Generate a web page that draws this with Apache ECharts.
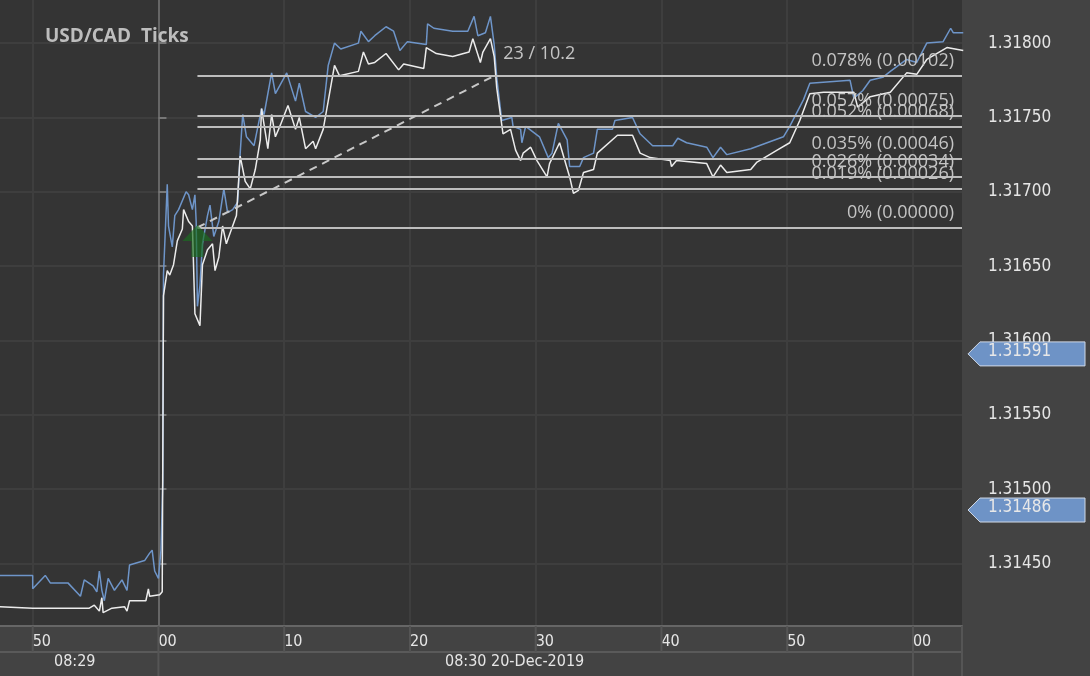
<!DOCTYPE html>
<html><head><meta charset="utf-8">
<script src="https://cdn.jsdelivr.net/npm/echarts@6/dist/echarts.min.js"></script>
<style>html,body{margin:0;padding:0;background:#434343}#c{width:1090px;height:676px}</style>
</head><body><div id="c"></div>
<script>
// time in seconds relative to 08:30:00, price
const askT=[-12.6,-10.0,-10.0,-9.0,-8.6,-7.2,-6.2,-5.9,-5.2,-4.9,-4.7,-4.5,-4.3,-4.0,-3.5,-2.9,-2.5,-2.3,-1.1,-0.7,-0.5,-0.3,0.0,0.2,0.35,0.4,0.7,0.8,1.1,1.3,1.6,2.2,2.4,2.7,2.9,3.0,3.1,3.3,3.5,3.9,4.1,4.4,4.8,5.2,5.5,5.9,6.3,6.5,6.7,7.0,7.6,8.2,8.4,9.0,9.3,10.2,10.9,11.2,11.7,12.5,13.1,13.5,14.0,14.5,15.9,16.1,16.7,17.2,18.1,18.7,19.2,19.8,21.3,21.4,21.9,23.4,24.6,25.1,25.4,26.0,26.4,26.7,26.9,27.3,28.1,28.2,28.8,28.9,29.2,30.3,31.0,31.3,31.8,32.5,32.7,33.5,33.8,34.6,34.9,36.1,36.3,37.7,38.3,39.3,40.9,41.3,42.0,43.6,44.1,44.7,45.2,47.1,48.4,49.7,50.2,51.3,51.8,55.0,55.3,56.0,56.6,57.6,58.2,59.5,60.3,61.1,62.4,63.0,63.2,64.0];
const askP=[1.31442,1.31442,1.31433,1.31442,1.31437,1.31437,1.31428,1.31439,1.31435,1.31431,1.31445,1.31432,1.31425,1.31440,1.31432,1.31439,1.31432,1.31449,1.31452,1.31457,1.31459,1.31445,1.31440,1.31459,1.31506,1.31644,1.31705,1.31677,1.31663,1.31684,1.31688,1.31700,1.31698,1.31688,1.31698,1.31680,1.31623,1.31637,1.31665,1.31684,1.31691,1.31670,1.31680,1.31702,1.31686,1.31688,1.31693,1.31726,1.31752,1.31737,1.31731,1.31756,1.31752,1.31780,1.31766,1.31780,1.31761,1.31773,1.31754,1.31750,1.31754,1.31785,1.31800,1.31796,1.31800,1.31808,1.31801,1.31805,1.31811,1.31808,1.31795,1.31801,1.31799,1.31813,1.31810,1.31808,1.31808,1.31818,1.31805,1.31807,1.31818,1.31799,1.31777,1.31748,1.31750,1.31744,1.31742,1.31733,1.31744,1.31737,1.31723,1.31726,1.31746,1.31735,1.31717,1.31717,1.31723,1.31726,1.31742,1.31742,1.31748,1.31750,1.31739,1.31731,1.31731,1.31736,1.31733,1.31730,1.31723,1.31730,1.31725,1.31729,1.31733,1.31737,1.31744,1.31762,1.31773,1.31775,1.31763,1.31768,1.31775,1.31777,1.31781,1.31789,1.31787,1.31800,1.31801,1.31810,1.31807,1.31807];
const bidT=[-12.6,-10.0,-5.5,-5.1,-4.7,-4.5,-4.4,-3.7,-2.7,-2.5,-2.3,-1.0,-0.8,-0.7,0.1,0.3,0.4,0.7,0.9,1.2,1.5,1.9,2.0,2.4,2.7,2.9,3.3,3.5,3.9,4.3,4.5,4.8,5.1,5.4,5.6,6.2,6.5,6.9,7.3,7.7,8.1,8.2,8.7,9.0,9.3,9.7,10.3,10.9,11.2,11.7,12.3,12.5,13.1,13.5,14.0,14.4,15.9,16.3,16.7,17.2,18.1,19.1,19.5,21.1,21.3,22.1,23.4,24.7,25.0,25.6,25.8,26.4,26.7,26.9,27.4,28.0,28.4,28.8,29.0,29.6,30.1,30.9,31.1,31.9,32.7,33.0,33.4,33.8,34.6,34.9,36.5,37.7,38.3,39.1,40.7,40.8,41.2,43.6,44.1,44.7,45.2,47.1,47.6,49.2,50.2,51.0,51.8,52.9,55.3,55.6,56.6,58.2,59.5,60.3,61.1,62.7,64.0];
const bidP=[1.31421,1.31420,1.31420,1.31422,1.31418,1.31427,1.31417,1.31420,1.31421,1.31418,1.31425,1.31425,1.31433,1.31428,1.31429,1.31431,1.31630,1.31647,1.31644,1.31651,1.31667,1.31675,1.31688,1.31680,1.31677,1.31618,1.31610,1.31651,1.31661,1.31665,1.31647,1.31656,1.31677,1.31665,1.31670,1.31684,1.31724,1.31707,1.31702,1.31715,1.31735,1.31756,1.31729,1.31752,1.31737,1.31745,1.31758,1.31742,1.31750,1.31729,1.31734,1.31729,1.31742,1.31761,1.31785,1.31778,1.31781,1.31794,1.31786,1.31787,1.31793,1.31782,1.31786,1.31783,1.31797,1.31793,1.31791,1.31794,1.31803,1.31787,1.31794,1.31803,1.31791,1.31770,1.31739,1.31742,1.31728,1.31721,1.31726,1.31730,1.31721,1.31710,1.31719,1.31733,1.31710,1.31699,1.31701,1.31713,1.31715,1.31726,1.31738,1.31738,1.31726,1.31723,1.31721,1.31717,1.31721,1.31719,1.31710,1.31718,1.31713,1.31715,1.31720,1.31728,1.31733,1.31748,1.31766,1.31767,1.31767,1.31757,1.31764,1.31767,1.31780,1.31779,1.31789,1.31797,1.31795];
const xTickValues=[-10,0,10,20,30,40,50,60];
const xTickLabels=['50','00','10','20','30','40','50','00'];
const yTickValues=[1.3145,1.315,1.3155,1.316,1.3165,1.317,1.3175,1.318];
const fibBase=1.31676;
const fibOffsets=[0,0.00026,0.00034,0.00046,0.00068,0.00075,0.00102];
const fibLabels=['0% (0.00000)','0.019% (0.00026)','0.026% (0.00034)','0.035% (0.00046)','0.052% (0.00068)','0.057% (0.00075)','0.078% (0.00102)'];
const trendStart=[3.1,1.31676], trendEnd=[26.7,1.31778];
const trendLabel='23 / 10.2';
const priceTags=[1.31591,1.31486];
const arrowAt=[3.1,1.31667];
const xMin=-12.6, xMax=63.9, yMin=1.31408, yMax=1.31829;

const zip=(a,b)=>a.map((v,i)=>[v,b[i]]);
const chart=echarts.init(document.getElementById('c'));
const txt='#e6e6e6';
chart.setOption({
  backgroundColor:'#434343',
  animation:false,
  title:{text:'USD/CAD  Ticks',left:40,top:22,textStyle:{color:'#bdbdbd',fontSize:19,fontWeight:'bold',fontFamily:'Open Sans'}},
  grid:{left:0,top:0,right:128,bottom:50,show:true,backgroundColor:'#343434',borderWidth:0},
  xAxis:{type:'value',min:xMin,max:xMax,
    axisLine:{show:true,lineStyle:{color:'#666',width:2}},
    axisTick:{show:false,customValues:xTickValues},
    splitLine:{show:true,lineStyle:{color:'#3e3e3e',width:2}},
    axisLabel:{customValues:xTickValues,color:txt,fontSize:16,fontFamily:'DejaVu Sans Condensed, DejaVu Sans',align:'left',margin:8,
      formatter:v=>xTickLabels[xTickValues.indexOf(Math.round(v))]}},
  yAxis:{type:'value',position:'right',min:yMin,max:yMax,
    axisLine:{show:true,lineStyle:{color:'#666',width:2}},
    axisTick:{show:true,customValues:yTickValues,length:8,lineStyle:{color:'#777',width:2}},
    splitLine:{show:true,lineStyle:{color:'#3e3e3e',width:2}},
    axisLabel:{customValues:yTickValues,color:txt,fontSize:17,fontFamily:'DejaVu Sans Condensed, DejaVu Sans',margin:26,formatter:v=>v.toFixed(5)}},
  series:[
    {type:'line',data:zip(askT,askP),symbol:'none',lineStyle:{color:'#6e95c9',width:1.5},z:3,
     markLine:{silent:true,symbol:'none',animation:false,
       lineStyle:{color:'#a8a8a8',type:'dotted',width:1.5},label:{show:false},
       data:priceTags.map(p=>({yAxis:p}))}},
    {type:'line',data:zip(bidT,bidP),symbol:'none',lineStyle:{color:'#ececec',width:1.5},z:4,
     markLine:{silent:true,symbol:'none',animation:false,
       data:fibOffsets.map((o,i)=>[{coord:[trendStart[0],fibBase+o],lineStyle:{color:'#bdbdbd',width:2,type:'solid'},
         label:{show:true,position:'insideEndTop',formatter:fibLabels[i],color:'#c4c4c4',fontSize:18,fontFamily:'Open Sans',distance:[8,6]}},
         {coord:[xMax,fibBase+o]}]).concat([[{coord:trendStart,lineStyle:{color:'#c8c8c8',width:2,type:[8,6]},label:{show:false}},{coord:trendEnd}]])},
     markPoint:{silent:true,animation:false,
       data:[{coord:arrowAt,symbol:'path://M0,-10 L10,0 L4,0 L4,10 L-4,10 L-4,0 L-10,0 Z',symbolSize:[30,32],
         itemStyle:{color:'rgba(25,110,30,0.65)'},label:{show:false}}]}}
  ]
});
const px=v=>chart.convertToPixel({gridIndex:0},v);
const g=[];
const tl=px(trendEnd);
g.push({type:'text',left:tl[0]+9,top:tl[1]-31,style:{text:trendLabel,fill:'#c4c4c4',font:'18px "Open Sans"'},z:10});
priceTags.forEach(p=>{
  const y=px([xMax,p])[1];
  g.push({type:'polygon',shape:{points:[[968,y],[980,y-12],[1085,y-12],[1085,y+12],[980,y+12]]},
    style:{fill:'#6e93c6',stroke:'#cfd8e6',lineWidth:1},z:20});
  g.push({type:'text',left:988,top:y-11,style:{text:p.toFixed(5),fill:'#e8e8e8',font:'17px "DejaVu Sans Condensed","DejaVu Sans"'},z:21});
});
// bottom axis rows
g.push({type:'line',shape:{x1:0,y1:652,x2:962,y2:652},style:{stroke:'#5a5a5a',lineWidth:2},z:5});
xTickValues.forEach(v=>{
  const x=px([v,yMin])[0];
  g.push({type:'line',shape:{x1:x,y1:626,x2:x,y2:652},style:{stroke:'#555',lineWidth:2},z:5});
});
[0,60].forEach(v=>{
  const x=px([v,yMin])[0];
  g.push({type:'line',shape:{x1:x,y1:652,x2:x,y2:676},style:{stroke:'#555',lineWidth:2},z:5});
});
g.push({type:'line',shape:{x1:962,y1:626,x2:962,y2:676},style:{stroke:'#555',lineWidth:2},z:5});
g.push({type:'text',left:54,top:654,style:{text:'08:29',fill:txt,font:'16px "DejaVu Sans Condensed","DejaVu Sans"'},z:6});
g.push({type:'text',left:445,top:654,style:{text:'08:30 20-Dec-2019',fill:txt,font:'16px "DejaVu Sans Condensed","DejaVu Sans"'},z:6});
chart.setOption({graphic:g});
</script></body></html>
